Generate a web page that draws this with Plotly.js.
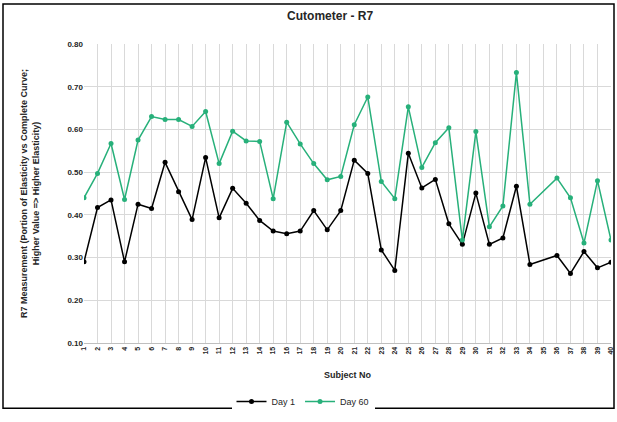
<!DOCTYPE html>
<html>
<head>
<meta charset="utf-8">
<script src="https://cdn.plot.ly/plotly-3.0.1.min.js"></script>
<style>html,body{margin:0;padding:0;background:#fff}#chart{width:617px;height:422px}</style>
</head>
<body>
<div id="chart"></div>
<script>
const subjects = [];
for (let i = 1; i <= 40; i++) subjects.push(i);
const day1 = [0.290,0.417,0.435,0.290,0.425,0.415,0.523,0.454,0.389,0.534,
              0.393,0.462,0.427,0.387,0.362,0.356,0.362,0.410,0.365,0.410,
              0.528,0.497,0.318,0.270,0.544,0.463,0.483,0.379,0.331,0.451,
              0.331,0.346,0.467,0.284,null,0.305,0.263,0.314,0.276,0.289];
const day60 = [0.440,0.497,0.567,0.436,0.575,0.630,0.623,0.623,0.607,0.642,
               0.520,0.596,0.573,0.572,0.438,0.617,0.566,0.520,0.482,0.490,
               0.611,0.676,0.478,0.438,0.653,0.511,0.569,0.604,0.341,0.595,
               0.372,0.421,0.733,0.425,null,0.486,0.440,0.334,0.480,0.341];
const FONT = "Liberation Sans, Arial, sans-serif";
const TXT = "#262626";
const green = "#27B07A";

const traces = [
  {x: subjects, y: day1, name: "Day 1", mode: "lines+markers", connectgaps: true,
   line: {color: "#000000", width: 1.5}, marker: {color: "#000000", size: 5}},
  {x: subjects, y: day60, name: "Day 60", mode: "lines+markers", connectgaps: true,
   line: {color: green, width: 1.5}, marker: {color: green, size: 5}}
];

const L = 84, R = 6, T = 44, B = 71, W = 617, H = 422;
const pw = W - L - R, ph = H - T - B;
const px = v => (v - L) / pw;
const py = v => (H - B - v) / ph;

const layout = {
  width: W, height: H,
  margin: {l: L, r: R, t: T, b: B},
  paper_bgcolor: "#fff", plot_bgcolor: "#fff",
  font: {family: FONT, color: TXT},
  title: {text: "<b>Cutometer - R7</b>", font: {size: 12, color: TXT, family: FONT},
          x: 0.535, xanchor: "center", y: 1 - 16/H, yanchor: "middle"},
  xaxis: {
    range: [1, 40], tickmode: "array", tickvals: subjects, ticktext: subjects.map(String),
    tickangle: -90, tickfont: {size: 7, color: TXT, weight: "bold"},
    showgrid: true, gridcolor: "#d9d9d9", gridwidth: 1,
    showline: true, linecolor: "#bfbfbf", zeroline: false, ticks: "",
    title: {text: "<b>Subject No</b>", font: {size: 9, color: TXT}, standoff: 18}
  },
  yaxis: {
    range: [0.10, 0.80], dtick: 0.1, tick0: 0.1, tickformat: ".2f",
    tickfont: {size: 8, color: TXT, weight: "bold"},
    showgrid: true, gridcolor: "#d9d9d9", gridwidth: 1,
    showline: false, zeroline: false, ticks: "",
    title: {text: "<b>R7 Measurement (Portion of Elasticity vs Complete Curve;<br>Higher Value => Higher Elasticity)</b>",
            font: {size: 9, color: TXT}, standoff: 26}
  },
  showlegend: true,
  legend: {orientation: "h", x: px(303), xanchor: "center", y: py(411), yanchor: "middle",
           font: {size: 9, color: TXT}, itemwidth: 30, tracegroupgap: 0},
  shapes: [{type: "rect", xref: "paper", yref: "paper",
            x0: px(3), x1: px(614), y0: py(418), y1: py(3),
            line: {color: "#000", width: 1.5}, fillcolor: "rgba(0,0,0,0)"}]
};

Plotly.newPlot("chart", traces, layout, {displayModeBar: false, staticPlot: true});
</script>
</body>
</html>
